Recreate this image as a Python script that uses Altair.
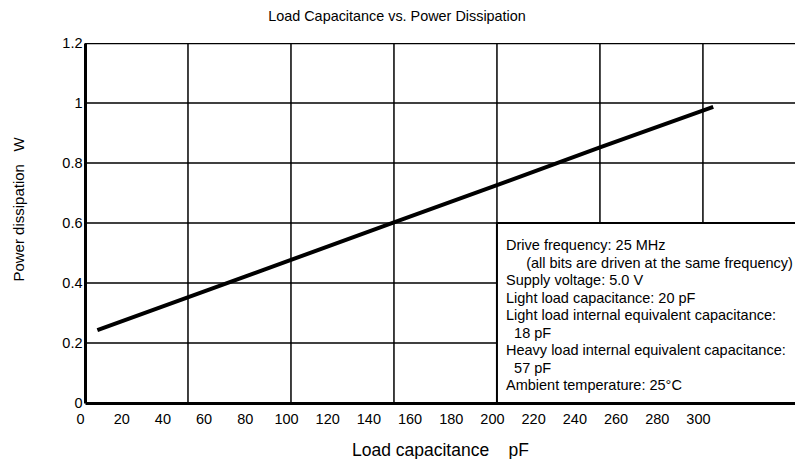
import altair as alt
import pandas as pd

FONT = "Liberation Sans"

# ---- data ----
load_pf = [6, 100, 150, 200, 250, 305]
power_w = [0.243, 0.477, 0.602, 0.726, 0.852, 0.987]

x_grid = [50, 100, 150, 200, 250, 300]
y_grid = [0.2, 0.4, 0.6, 0.8, 1.0]
y_top = [1.2]

x_ticks = [0, 20, 40, 60, 80, 100, 120, 140, 160, 180, 200, 220, 240, 260, 280, 300]
y_ticks = [0, 0.2, 0.4, 0.6, 0.8, 1, 1.2]

NB = "\u00a0"
ZW = "\u200b"
note_lines = [
    "Drive frequency: 25 MHz",
    ZW + NB * 5 + "(all bits are driven at the same frequency)",
    "Supply voltage: 5.0 V",
    "Light load capacitance: 20 pF",
    "Light load internal equivalent capacitance:",
    ZW + NB * 2 + "18 pF",
    "Heavy load internal equivalent capacitance:",
    ZW + NB * 2 + "57 pF",
    "Ambient temperature: 25\u00b0C",
]

X_DOMAIN = [0, 344.7]
Y_DOMAIN = [0, 1.2]

xs = alt.Scale(domain=X_DOMAIN, nice=False, zero=False)
ys = alt.Scale(domain=Y_DOMAIN, nice=False)

curve = pd.DataFrame({"c": load_pf, "p": power_w})
vgrid = pd.DataFrame({"g": x_grid})
hgrid = pd.DataFrame({"h": y_grid})
top = pd.DataFrame({"h": y_top})
notes_df = pd.DataFrame({"x": [204.4], "y": [0.51]})
box_df = pd.DataFrame({"x": [200], "x2": [360], "y": [0], "y2": [0.6]})

x_axis = alt.Axis(
    orient="bottom",
    values=x_ticks,
    format="d",
    title="Load capacitance" + NB * 4 + "pF",
    titleFontSize=17.5,
    titleFont=FONT,
    titleFontWeight="normal",
    titleColor="#000",
    titleY=52,
    titleBaseline="alphabetic",
    labelFont=FONT,
    labelFontSize=14.5,
    labelColor="#000",
    labelPadding=9,
    labelOffset=-5,
    labelFlush=False,
    ticks=False,
    grid=False,
    domainColor="#000",
    domainWidth=3,
    zindex=1,
)

y_axis = alt.Axis(
    orient="left",
    values=y_ticks,
    format="~g",
    title="Power dissipation" + NB * 3 + "W",
    titleFontSize=15,
    titleFont=FONT,
    titleFontWeight="normal",
    titleColor="#000",
    titleX=-67,
    titleY=166,
    titleAlign="center",
    titleBaseline="middle",
    labelFont=FONT,
    labelFontSize=14.5,
    labelColor="#000",
    labelPadding=3,
    ticks=False,
    grid=False,
    domainColor="#000",
    domainWidth=3,
    zindex=1,
)

vlines = alt.Chart(vgrid).mark_rule(color="#000", strokeWidth=1.5, clip=True).encode(
    x=alt.X("g:Q", scale=xs, axis=x_axis)
)
hlines = alt.Chart(hgrid).mark_rule(color="#000", strokeWidth=1.5, clip=True).encode(
    y=alt.Y("h:Q", scale=ys, axis=y_axis)
)
topline = alt.Chart(top).mark_rule(color="#000", strokeWidth=2.5, clip=True).encode(
    y=alt.Y("h:Q", scale=ys, axis=y_axis)
)

box = alt.Chart(box_df).mark_rect(fill="white", stroke="#000", strokeWidth=2, clip=True).encode(
    x=alt.X("x:Q", scale=xs, axis=x_axis),
    x2="x2:Q",
    y=alt.Y("y:Q", scale=ys, axis=y_axis),
    y2="y2:Q",
)

notes = alt.Chart(notes_df).mark_text(
    text=note_lines,
    align="left",
    baseline="alphabetic",
    lineHeight=17.5,
    fontSize=14.5,
    font=FONT,
    color="#000",
).encode(
    x=alt.X("x:Q", scale=xs, axis=x_axis),
    y=alt.Y("y:Q", scale=ys, axis=y_axis),
)

line = alt.Chart(curve).mark_line(color="#000", strokeWidth=4, strokeCap="butt").encode(
    x=alt.X("c:Q", scale=xs, axis=x_axis),
    y=alt.Y("p:Q", scale=ys, axis=y_axis),
)

chart = (
    alt.layer(vlines, hlines, topline, box, line, notes)
    .properties(
        width=710,
        height=360,
        padding={"left": 77, "top": 35, "right": 0, "bottom": 56},
        autosize=alt.AutoSizeParams(type="none"),
        title=alt.Title(
            "Load Capacitance vs. Power Dissipation",
            fontSize=14.4,
            font=FONT,
            fontWeight="normal",
            color="#000",
            anchor="middle",
            dx=-43,
            offset=11,
        ),
    )
    .configure_view(stroke=None)
)

chart.save("out.html", embed_options={"renderer": "svg", "actions": False})
